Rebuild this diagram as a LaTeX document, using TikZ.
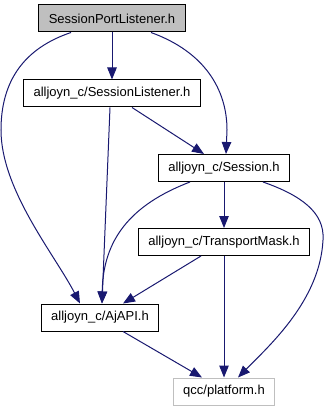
\documentclass[tikz,border=0pt]{standalone}
\usepackage{fontspec}
\setmainfont{Liberation Sans}
\usepackage{tikz}
\usetikzlibrary{arrows.meta}
\definecolor{edgeblue}{HTML}{191970}
\definecolor{boxgray}{HTML}{BFBFBF}

\begin{document}
\begin{tikzpicture}[x=1pt,y=-1pt,>={Triangle[length=12pt,width=9.5pt]}]
  \tikzstyle{file}=[draw=black,fill=white,line width=1pt,inner xsep=10pt,
                    minimum height=27pt,font=\fontsize{13}{15}\selectfont]
  \tikzstyle{dep}=[->,draw=edgeblue,line width=1pt]

  \useasboundingbox (0,0) rectangle (332,411);

  \node[file,fill=boxgray] (spl)  at (112,18.5)  {SessionPortListener.h};
  \node[file]              (sl)   at (112,93.5)  {alljoyn\_c/SessionListener.h};
  \node[file]              (ses)  at (224,168)   {alljoyn\_c/Session.h};
  \node[file]              (tm)   at (224,242)   {alljoyn\_c/TransportMask.h};
  \node[file]              (aj)   at (100,317.5) {alljoyn\_c/AjAPI.h};
  \node[file,draw=boxgray] (plat) at (224,391.5) {qcc/platform.h};

  \path (spl) edge [dep] (sl)
        ([xshift=20pt]sl.south) edge [dep] ([xshift=-20pt]ses.north)
        ([xshift=-2pt]sl.south) edge [dep] ([xshift=2pt]aj.north)
        (ses) edge [dep] (tm)
        ([xshift=-23pt]tm.south) edge [dep] ([xshift=23pt]aj.north)
        (tm) edge [dep] (plat)
        ([xshift=23pt]aj.south) edge [dep] ([xshift=-22pt]plat.north);

  % the long ones bend round the boxes
  \draw[dep] ([xshift=-41pt]spl.south) .. controls (25,48) and (1,80) .. (1,130)
             .. controls (1,190) and (55,255) .. ([xshift=-20pt]aj.north);
  \draw[dep] ([xshift=39pt]spl.south) .. controls (205,52) and (227,90) .. (227,130)
             -- ([xshift=2pt]ses.north);
  \draw[dep] ([xshift=-34pt]ses.south) .. controls (130,205) and (103,240)
             .. ([xshift=2pt]aj.north);
  \draw[dep] ([xshift=39pt]ses.south) .. controls (300,195) and (325,212) .. (323,240)
             .. controls (320,300) and (270,345) .. ([xshift=14pt]plat.north);
\end{tikzpicture}
\end{document}
